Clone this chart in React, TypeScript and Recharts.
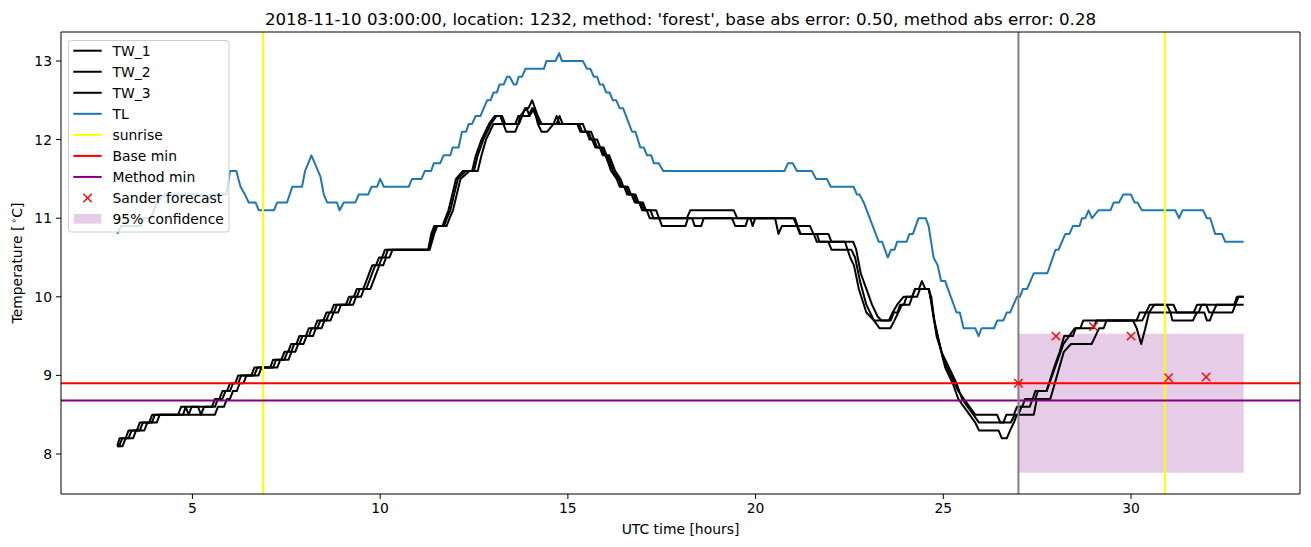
import React from 'react';
import {
  ComposedChart, Line, Scatter, XAxis, YAxis, ReferenceLine, ReferenceArea, Legend,
} from 'recharts';

const TITLE = "2018-11-10 03:00:00, location: 1232, method: 'forest', base abs error: 0.50, method abs error: 0.28";
const X_TICKS = [5, 10, 15, 20, 25, 30];
const Y_TICKS = [8, 9, 10, 11, 12, 13];
const X_DOMAIN = [1.5, 34.5];
const Y_DOMAIN = [7.491, 13.369];
const SUNRISE_T = [6.88, 30.9];
const NOW_T = 27.0;
const BASE_MIN = 8.9;
const METHOD_MIN = 8.68;
const FORECAST_T = [27, 28, 29, 30, 31, 32];
const FORECAST_V = [8.9, 9.5, 9.62, 9.5, 8.97, 8.98];
const CONF_T = [27, 33];
const CONF_V = [7.76, 9.53];

const TL_PTS: [number, number][] = [
  [3.0, 10.8], [3.1, 10.9], [3.62, 10.9], [3.7, 11.0], [3.9, 11.0], [4.05, 11.2], [4.25, 11.3], [5.3, 11.3], [5.39, 11.2], [5.48, 11.3],
  [5.9, 11.3], [6.0, 11.6], [6.17, 11.6], [6.28, 11.4], [6.4, 11.3], [6.5, 11.2], [6.68, 11.2], [6.77, 11.1], [7.17, 11.1], [7.26, 11.2],
  [7.52, 11.2], [7.66, 11.4], [7.92, 11.4], [8.0, 11.6], [8.17, 11.8], [8.41, 11.53], [8.5, 11.3], [8.59, 11.2], [8.85, 11.2], [8.92, 11.1],
  [9.03, 11.2], [9.34, 11.2], [9.43, 11.3], [9.68, 11.3], [9.77, 11.4], [9.92, 11.4], [10.0, 11.5], [10.1, 11.4], [10.76, 11.4], [10.85, 11.5],
  [11.1, 11.5], [11.19, 11.6], [11.36, 11.6], [11.43, 11.7], [11.6, 11.7], [11.69, 11.8], [11.87, 11.8], [11.93, 11.9], [12.09, 11.9], [12.18, 12.1],
  [12.29, 12.1], [12.36, 12.2], [12.45, 12.2], [12.54, 12.3], [12.67, 12.3], [12.76, 12.4], [12.85, 12.5], [12.94, 12.5], [13.02, 12.6], [13.11, 12.6],
  [13.18, 12.7], [13.29, 12.7], [13.38, 12.8], [13.45, 12.8], [13.56, 12.7], [13.63, 12.7], [13.69, 12.8], [13.78, 12.8], [13.87, 12.9], [14.36, 12.9],
  [14.43, 13.0], [14.67, 13.0], [14.77, 13.1], [14.84, 13.0], [15.4, 13.0], [15.51, 12.9], [15.6, 12.9], [15.69, 12.8], [15.78, 12.8], [15.85, 12.7],
  [15.94, 12.7], [16.02, 12.6], [16.11, 12.6], [16.2, 12.5], [16.29, 12.5], [16.38, 12.4], [16.47, 12.4], [16.71, 12.1], [16.8, 12.1], [16.93, 11.9],
  [17.02, 11.9], [17.11, 11.8], [17.22, 11.8], [17.29, 11.7], [17.42, 11.7], [17.54, 11.6], [20.77, 11.6], [20.86, 11.7], [20.99, 11.7], [21.1, 11.6],
  [21.5, 11.6], [21.61, 11.5], [21.9, 11.5], [22.0, 11.4], [22.61, 11.4], [22.7, 11.3], [22.77, 11.3], [22.88, 11.2], [23.28, 10.7], [23.37, 10.7],
  [23.52, 10.5], [23.61, 10.6], [23.7, 10.6], [23.77, 10.7], [24.02, 10.7], [24.1, 10.8], [24.19, 10.8], [24.34, 11.0], [24.53, 11.0], [24.61, 10.9],
  [24.74, 10.5], [24.85, 10.4], [24.94, 10.2], [25.05, 10.2], [25.35, 9.8], [25.44, 9.8], [25.54, 9.6], [25.85, 9.6], [25.94, 9.5], [26.02, 9.6],
  [26.35, 9.6], [26.44, 9.7], [26.6, 9.7], [26.69, 9.8], [26.78, 9.8], [26.96, 10.0], [27.04, 10.0], [27.12, 10.1], [27.23, 10.1], [27.32, 10.2],
  [27.41, 10.3], [27.77, 10.3], [27.99, 10.6], [28.07, 10.6], [28.25, 10.8], [28.36, 10.8], [28.45, 10.9], [28.63, 10.9], [28.69, 11.0], [28.78, 11.0],
  [28.87, 11.1], [28.96, 11.0], [29.13, 11.1], [29.45, 11.1], [29.54, 11.2], [29.68, 11.2], [29.79, 11.3], [30.0, 11.3], [30.09, 11.2], [30.17, 11.2],
  [30.29, 11.1], [31.18, 11.1], [31.28, 11.0], [31.37, 11.1], [31.92, 11.1], [32.02, 11.0], [32.11, 11.0], [32.24, 10.8], [32.42, 10.8], [32.51, 10.7],
  [33.0, 10.7],
];

const TW1_PTS: [number, number][] = [
  [3.0, 8.1], [3.06, 8.2], [3.22, 8.2], [3.3, 8.3], [3.52, 8.3], [3.6, 8.4], [3.85, 8.4], [3.93, 8.5], [4.62, 8.5], [4.7, 8.6],
  [5.52, 8.6], [5.6, 8.7], [5.72, 8.7], [5.8, 8.8], [5.92, 8.8], [6.0, 8.9], [6.14, 8.9], [6.22, 9.0], [6.57, 9.0], [6.65, 9.1],
  [7.07, 9.1], [7.15, 9.2], [7.37, 9.2], [7.45, 9.3], [7.55, 9.3], [7.63, 9.4], [7.77, 9.4], [7.85, 9.5], [8.02, 9.5], [8.1, 9.6],
  [8.25, 9.6], [8.33, 9.7], [8.49, 9.7], [8.57, 9.8], [8.69, 9.8], [8.77, 9.9], [9.09, 9.9], [9.17, 10.0], [9.3, 10.0], [9.38, 10.1],
  [9.55, 10.1], [9.63, 10.2], [9.71, 10.3], [9.79, 10.4], [9.89, 10.4], [9.97, 10.5], [10.05, 10.5], [10.13, 10.6], [11.28, 10.6], [11.36, 10.8],
  [11.44, 10.9], [11.66, 10.9], [11.74, 11.0], [11.82, 11.1], [11.92, 11.3], [12.02, 11.5], [12.2, 11.6], [12.45, 11.6], [12.55, 11.8], [12.7, 12.0],
  [12.8, 12.1], [12.9, 12.2], [13.05, 12.3], [13.25, 12.3], [13.33, 12.2], [13.6, 12.2], [13.68, 12.3], [13.78, 12.3], [13.86, 12.4], [13.95, 12.4],
  [14.05, 12.5], [14.2, 12.3], [14.3, 12.2], [14.7, 12.2], [14.78, 12.3], [14.86, 12.2], [15.25, 12.2], [15.33, 12.1], [15.5, 12.1], [15.58, 12.0],
  [15.65, 12.0], [15.73, 11.9], [15.85, 11.9], [15.93, 11.8], [16.0, 11.8], [16.08, 11.7], [16.15, 11.6], [16.3, 11.5], [16.38, 11.4], [16.5, 11.4],
  [16.58, 11.3], [16.7, 11.3], [16.78, 11.2], [16.9, 11.2], [16.98, 11.1], [17.1, 11.1], [17.18, 11.0], [18.17, 11.0], [18.26, 11.1], [19.42, 11.1],
  [19.51, 11.0], [21.01, 11.0], [21.1, 10.9], [21.45, 10.9], [21.54, 10.8], [21.94, 10.8], [22.02, 10.7], [22.6, 10.7], [22.68, 10.6], [22.8, 10.3],
  [22.95, 10.1], [23.1, 9.9], [23.25, 9.75], [23.35, 9.7], [23.55, 9.7], [23.65, 9.8], [23.77, 9.9], [23.94, 10.0], [24.17, 10.0], [24.25, 10.1],
  [24.35, 10.1], [24.43, 10.2], [24.52, 10.1], [24.62, 10.1], [24.72, 9.8], [24.85, 9.5], [25.0, 9.2], [25.2, 9.0], [25.4, 8.8], [25.55, 8.7],
  [25.7, 8.6], [25.85, 8.5], [26.43, 8.5], [26.52, 8.4], [26.6, 8.4], [26.68, 8.5], [26.88, 8.5], [26.96, 8.6], [27.1, 8.6], [27.18, 8.7],
  [27.45, 8.7], [27.52, 8.8], [27.75, 8.8], [27.95, 9.1], [28.1, 9.3], [28.22, 9.5], [28.45, 9.5], [28.53, 9.6], [29.0, 9.6], [29.08, 9.7],
  [30.05, 9.7], [30.15, 9.6], [30.27, 9.4], [30.38, 9.6], [30.48, 9.8], [30.62, 9.9], [31.13, 9.9], [31.22, 9.8], [31.67, 9.8], [31.76, 9.9],
  [32.78, 9.9], [32.86, 10.0], [33.0, 10.0],
];

const TW2_PTS: [number, number][] = [
  [3.0, 8.1], [3.05, 8.1], [3.13, 8.2], [3.3, 8.2], [3.38, 8.3], [3.6, 8.3], [3.68, 8.4], [3.92, 8.4], [4.0, 8.5], [4.75, 8.5],
  [4.82, 8.6], [4.9, 8.5], [4.98, 8.6], [5.15, 8.6], [5.23, 8.5], [5.31, 8.6], [5.6, 8.6], [5.68, 8.7], [5.8, 8.7], [5.88, 8.8],
  [6.0, 8.8], [6.08, 8.9], [6.22, 8.9], [6.3, 9.0], [6.65, 9.0], [6.73, 9.1], [7.15, 9.1], [7.23, 9.2], [7.45, 9.2], [7.53, 9.3],
  [7.63, 9.3], [7.71, 9.4], [7.85, 9.4], [7.93, 9.5], [8.1, 9.5], [8.18, 9.6], [8.33, 9.6], [8.41, 9.7], [8.57, 9.7], [8.65, 9.8],
  [8.77, 9.8], [8.85, 9.9], [9.17, 9.9], [9.25, 10.0], [9.38, 10.0], [9.46, 10.1], [9.63, 10.1], [9.71, 10.2], [9.79, 10.3], [9.87, 10.4],
  [9.97, 10.4], [10.05, 10.5], [10.13, 10.5], [10.21, 10.6], [11.3, 10.6], [11.4, 10.8], [11.48, 10.9], [11.7, 10.9], [11.78, 11.0], [11.87, 11.1],
  [11.97, 11.3], [12.07, 11.5], [12.28, 11.6], [12.5, 11.6], [12.6, 11.8], [12.75, 12.0], [12.85, 12.1], [12.95, 12.2], [13.1, 12.3], [13.2, 12.3],
  [13.28, 12.2], [13.36, 12.1], [13.6, 12.1], [13.68, 12.2], [13.73, 12.3], [13.9, 12.4], [13.98, 12.3], [14.1, 12.4], [14.2, 12.2], [14.3, 12.1],
  [14.45, 12.1], [14.62, 12.2], [14.7, 12.3], [14.78, 12.2], [15.3, 12.2], [15.38, 12.1], [15.55, 12.1], [15.63, 12.0], [15.7, 12.0], [15.78, 11.9],
  [15.9, 11.9], [15.98, 11.8], [16.05, 11.8], [16.13, 11.7], [16.2, 11.6], [16.35, 11.5], [16.43, 11.4], [16.55, 11.4], [16.63, 11.3], [16.75, 11.3],
  [16.83, 11.2], [16.95, 11.2], [17.03, 11.1], [17.2, 11.1], [17.28, 11.0], [18.31, 11.0], [18.38, 10.9], [18.55, 10.9], [18.62, 11.0], [19.37, 11.0],
  [19.46, 10.9], [19.73, 10.9], [19.8, 11.0], [20.52, 11.0], [20.61, 10.8], [20.7, 10.9], [21.1, 10.9], [21.18, 10.8], [21.63, 10.8], [21.7, 10.7],
  [21.94, 10.7], [22.02, 10.6], [22.55, 10.6], [22.65, 10.5], [22.78, 10.2], [22.95, 9.9], [23.15, 9.7], [23.3, 9.6], [23.59, 9.6], [23.7, 9.7],
  [23.8, 9.8], [23.9, 9.9], [24.1, 9.9], [24.17, 10.0], [24.25, 10.1], [24.61, 10.1], [24.7, 9.9], [24.82, 9.5], [24.95, 9.3], [25.15, 9.1],
  [25.35, 8.9], [25.5, 8.7], [25.65, 8.6], [25.8, 8.5], [25.95, 8.4], [26.8, 8.4], [26.9, 8.5], [27.0, 8.5], [27.08, 8.6], [27.3, 8.6],
  [27.38, 8.7], [27.45, 8.8], [27.75, 8.8], [27.9, 9.0], [28.05, 9.2], [28.2, 9.4], [28.35, 9.5], [28.5, 9.6], [28.65, 9.6], [28.73, 9.7],
  [30.15, 9.7], [30.23, 9.8], [30.4, 9.8], [30.5, 9.9], [30.95, 9.9], [31.05, 9.8], [31.1, 9.7], [31.65, 9.7], [31.75, 9.8], [31.95, 9.8],
  [32.02, 9.7], [32.1, 9.7], [32.18, 9.8], [32.28, 9.9], [32.75, 9.9], [32.82, 10.0], [33.0, 10.0],
];

const TW3_PTS: [number, number][] = [
  [3.0, 8.1], [3.14, 8.1], [3.22, 8.2], [3.42, 8.2], [3.5, 8.3], [3.72, 8.3], [3.8, 8.4], [4.05, 8.4], [4.13, 8.5], [5.6, 8.5],
  [5.68, 8.6], [5.84, 8.6], [5.92, 8.7], [6.0, 8.7], [6.08, 8.8], [6.18, 8.8], [6.26, 8.9], [6.36, 8.9], [6.44, 9.0], [6.76, 9.0],
  [6.84, 9.1], [7.26, 9.1], [7.34, 9.2], [7.56, 9.2], [7.64, 9.3], [7.74, 9.3], [7.82, 9.4], [7.96, 9.4], [8.04, 9.5], [8.21, 9.5],
  [8.29, 9.6], [8.44, 9.6], [8.52, 9.7], [8.68, 9.7], [8.76, 9.8], [8.88, 9.8], [8.96, 9.9], [9.28, 9.9], [9.36, 10.0], [9.49, 10.0],
  [9.57, 10.1], [9.74, 10.1], [9.82, 10.2], [9.9, 10.3], [9.98, 10.4], [10.08, 10.4], [10.16, 10.5], [10.25, 10.5], [10.33, 10.6], [11.32, 10.6],
  [11.44, 10.8], [11.52, 10.9], [11.77, 10.9], [11.85, 11.0], [11.94, 11.1], [12.04, 11.3], [12.14, 11.5], [12.38, 11.6], [12.6, 11.6], [12.7, 11.8],
  [12.82, 12.0], [12.92, 12.1], [13.02, 12.2], [13.7, 12.2], [13.78, 12.3], [13.95, 12.3], [14.05, 12.4], [14.15, 12.3], [14.25, 12.2], [15.4, 12.2],
  [15.48, 12.1], [15.62, 12.1], [15.7, 12.0], [15.78, 12.0], [15.86, 11.9], [15.95, 11.9], [16.03, 11.8], [16.1, 11.8], [16.18, 11.7], [16.26, 11.6],
  [16.4, 11.5], [16.48, 11.4], [16.6, 11.4], [16.68, 11.3], [16.8, 11.3], [16.88, 11.2], [17.0, 11.2], [17.08, 11.1], [17.35, 11.1], [17.43, 11.0],
  [17.51, 10.9], [18.13, 10.9], [18.2, 11.0], [19.86, 11.0], [19.92, 10.9], [19.99, 11.0], [21.05, 11.0], [21.12, 10.9], [21.2, 10.8], [21.55, 10.8],
  [21.63, 10.7], [22.38, 10.7], [22.45, 10.6], [22.52, 10.5], [22.62, 10.4], [22.75, 10.1], [22.95, 9.8], [23.15, 9.7], [23.6, 9.7], [23.68, 9.8],
  [23.78, 9.8], [23.85, 9.9], [23.95, 9.9], [24.02, 10.0], [24.3, 10.0], [24.38, 10.1], [24.6, 10.1], [24.68, 10.0], [24.75, 9.7], [24.9, 9.4],
  [25.05, 9.1], [25.25, 8.9], [25.4, 8.7], [25.55, 8.6], [25.7, 8.5], [25.85, 8.4], [25.95, 8.3], [26.47, 8.3], [26.56, 8.2], [26.69, 8.2],
  [26.78, 8.3], [26.88, 8.4], [26.96, 8.5], [27.41, 8.5], [27.49, 8.7], [27.85, 8.7], [28.03, 9.0], [28.21, 9.3], [28.4, 9.4], [28.95, 9.4],
  [29.05, 9.5], [29.15, 9.6], [29.27, 9.6], [29.35, 9.7], [30.3, 9.7], [30.4, 9.8], [31.8, 9.8], [31.88, 9.9], [32.0, 9.9], [32.08, 9.8],
  [32.7, 9.8], [32.78, 9.9], [33.0, 9.9],
];

const LEGEND_LABELS = ['TW_1', 'TW_2', 'TW_3', 'TL', 'sunrise', 'Base min', 'Method min', 'Sander forecast', '95% confidence'];
const LEGEND_COLORS = ['#000000', '#000000', '#000000', '#1f77b4', '#ffff00', '#ff0000', '#800080', '#ff0000', '#800080'];
const LEGEND_KINDS = ['line', 'line', 'line', 'line', 'line', 'line', 'line', 'marker', 'patch'];

const rows = (pts: [number, number][]) => pts.map(([t, v]) => ({ t, v }));
const TL_DATA = rows(TL_PTS);
const TW1_DATA = rows(TW1_PTS);
const TW2_DATA = rows(TW2_PTS);
const TW3_DATA = rows(TW3_PTS);
const FORECAST_DATA = FORECAST_T.map((t, i) => ({ t, v: FORECAST_V[i] }));

const FONT = 'DejaVu Sans, sans-serif';
const FS = 13.9;

const XMark = (props: any) => {
  const { cx, cy } = props;
  if (cx == null || cy == null) return null;
  const r = 4.2;
  return (
    <g>
      <line x1={cx - r} y1={cy - r} x2={cx + r} y2={cy + r} stroke="#ff0000" strokeWidth={1.4} />
      <line x1={cx - r} y1={cy + r} x2={cx + r} y2={cy - r} stroke="#ff0000" strokeWidth={1.4} />
    </g>
  );
};

const YLabel = () => (
  <text x={22} y={263} transform="rotate(-90, 22, 263)" textAnchor="middle" fontSize={FS} fontFamily={FONT} fill="#000">
    <tspan>Temperature [</tspan>
    <tspan dy={-5} fontSize={9.5}>{'\u2009\u2218'}</tspan>
    <tspan dy={5}>C]</tspan>
  </text>
);

const LegendBox = () => (
  <svg width={162} height={193} style={{ display: 'block' }}>
    <rect x={0.5} y={0.5} width={160.5} height={191.5} rx={3} fill="#ffffff" fillOpacity={0.8} stroke="#cccccc" strokeWidth={1} />
    {LEGEND_LABELS.map((lab, i) => {
      const base = 16 + i * 21.04;
      const hy = base - 5.3;
      const kind = LEGEND_KINDS[i];
      const col = LEGEND_COLORS[i];
      return (
        <g key={lab}>
          {kind === 'line' && <line x1={5.3} x2={33.7} y1={hy} y2={hy} stroke={col} strokeWidth={2} />}
          {kind === 'marker' && (
            <g>
              <line x1={19.5 - 4.2} y1={hy - 4.2} x2={19.5 + 4.2} y2={hy + 4.2} stroke={col} strokeWidth={1.4} />
              <line x1={19.5 - 4.2} y1={hy + 4.2} x2={19.5 + 4.2} y2={hy - 4.2} stroke={col} strokeWidth={1.4} />
            </g>
          )}
          {kind === 'patch' && <rect x={6} y={hy - 5} width={27.5} height={9.7} fill={col} fillOpacity={0.2} />}
          <text x={44.5} y={base} fontSize={FS} fontFamily={FONT} fill="#000">{lab}</text>
        </g>
      );
    })}
  </svg>
);

export default function App() {
  const tickStyle = { fill: '#000', fontSize: FS, fontFamily: FONT };
  return (
    <div style={{ position: 'absolute', left: 0, top: 0, width: 1311, height: 547, background: '#fff', fontFamily: FONT }}>
      <div style={{
        position: 'absolute', left: 61, top: 10.2, width: 1239, height: 20, lineHeight: '20px',
        textAlign: 'center', fontSize: 16.67, fontFamily: FONT, color: '#000', whiteSpace: 'nowrap', zIndex: 2,
      }}>
        {TITLE}
      </div>
      <ComposedChart width={1311} height={547} margin={{ top: 32, right: 0, bottom: 0, left: 0 }}>
        <XAxis
          xAxisId="b" type="number" dataKey="t" domain={X_DOMAIN} ticks={X_TICKS} allowDataOverflow
          height={53} tickSize={5} tickMargin={4} tick={tickStyle}
          tickLine={{ stroke: '#000', strokeWidth: 1 }} axisLine={{ stroke: '#000', strokeWidth: 1 }}
          label={{ value: 'UTC time [hours]', position: 'insideBottom', offset: 13, fontSize: FS, fontFamily: FONT, fill: '#000' }}
        />
        <YAxis
          yAxisId="l" type="number" domain={Y_DOMAIN} ticks={Y_TICKS} allowDataOverflow
          width={61} tickSize={5} tickMargin={4} tick={tickStyle}
          tickLine={{ stroke: '#000', strokeWidth: 1 }} axisLine={{ stroke: '#000', strokeWidth: 1 }}
          label={<YLabel />}
        />
        <YAxis
          yAxisId="r" orientation="right" type="number" domain={Y_DOMAIN} allowDataOverflow
          width={11} tick={false} tickLine={false} axisLine={{ stroke: '#000', strokeWidth: 1 }}
        />
        <ReferenceArea xAxisId="b" yAxisId="l" x1={CONF_T[0]} x2={CONF_T[1]} y1={CONF_V[0]} y2={CONF_V[1]}
          fill="#800080" fillOpacity={0.2} stroke="none" />
        <Line xAxisId="b" yAxisId="l" data={TW1_DATA} dataKey="v" name="TW_1" stroke="#000" strokeWidth={2} dot={false} isAnimationActive={false} strokeLinejoin="round" />
        <Line xAxisId="b" yAxisId="l" data={TW2_DATA} dataKey="v" name="TW_2" stroke="#000" strokeWidth={2} dot={false} isAnimationActive={false} strokeLinejoin="round" />
        <Line xAxisId="b" yAxisId="l" data={TW3_DATA} dataKey="v" name="TW_3" stroke="#000" strokeWidth={2} dot={false} isAnimationActive={false} strokeLinejoin="round" />
        <Line xAxisId="b" yAxisId="l" data={TL_DATA} dataKey="v" name="TL" stroke="#1f77b4" strokeWidth={2} dot={false} isAnimationActive={false} strokeLinejoin="round" />
        {SUNRISE_T.map((t) => (
          <ReferenceLine key={t} xAxisId="b" yAxisId="l" x={t} stroke="#ffff00" strokeWidth={2} />
        ))}
        <ReferenceLine xAxisId="b" yAxisId="l" y={BASE_MIN} stroke="#ff0000" strokeWidth={2} />
        <ReferenceLine xAxisId="b" yAxisId="l" y={METHOD_MIN} stroke="#800080" strokeWidth={2} />
        <ReferenceLine xAxisId="b" yAxisId="l" x={NOW_T} stroke="#808080" strokeWidth={2} />
        <ReferenceLine xAxisId="b" yAxisId="l" y={Y_DOMAIN[1]} stroke="#000" strokeWidth={1} />
        <Scatter xAxisId="b" yAxisId="l" data={FORECAST_DATA} dataKey="v" name="Sander forecast" shape={XMark} isAnimationActive={false} />
        <Legend
          layout="vertical" align="center" verticalAlign="middle"
          content={() => <LegendBox />}
          wrapperStyle={{ position: 'absolute', left: 68, top: 40, width: 162, height: 193, margin: 0, padding: 0 }}
        />
      </ComposedChart>
    </div>
  );
}
